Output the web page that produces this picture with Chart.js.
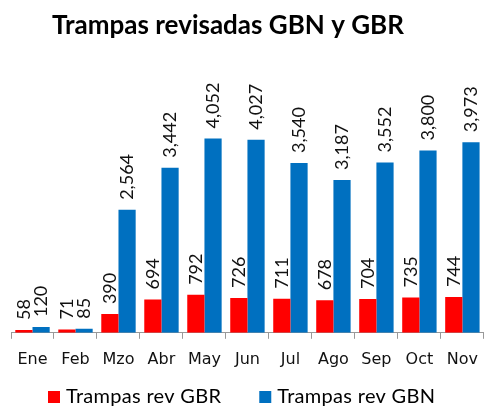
<!DOCTYPE html>
<html>
<head>
<meta charset="utf-8">
<script src="https://cdn.jsdelivr.net/npm/chart.js@4.4.1/dist/chart.umd.min.js"></script>
<style>
  html, body { margin: 0; padding: 0; background: #fff; }
  #wrap { width: 489px; height: 408px; }
</style>
</head>
<body>
<div id="wrap"><canvas id="chart"></canvas></div>
<script>
const chartTitle = "Trampas revisadas GBN y GBR";
const months = ["Ene", "Feb", "Mzo", "Abr", "May", "Jun", "Jul", "Ago", "Sep", "Oct", "Nov"];
const gbrValues = [58, 71, 390, 694, 792, 726, 711, 678, 704, 735, 744];
const gbnValues = [120, 85, 2564, 3442, 4052, 4027, 3540, 3187, 3552, 3800, 3973];
const seriesLabels = ["Trampas rev GBR", "Trampas rev GBN"];
const seriesColors = ["#ff0000", "#0070c0"];

Chart.defaults.font.family = "Lato, 'Open Sans', sans-serif";
Chart.defaults.color = "#111";

// title sits a bit left of centre in the original, so draw it ourselves
const titlePlugin = {
  id: "titlePlugin",
  afterDraw(chart) {
    const { ctx } = chart;
    ctx.save();
    ctx.font = "bold 26px Lato";
    ctx.fillStyle = "#000";
    ctx.textAlign = "center";
    ctx.textBaseline = "middle";
    ctx.fillText(chartTitle, 228, 26);
    ctx.restore();
  },
};

const valueLabels = {
  id: "valueLabels",
  afterDatasetsDraw(chart) {
    const { ctx } = chart;
    ctx.save();
    ctx.font = "18px Lato";
    ctx.fillStyle = "#111";
    ctx.textAlign = "left";
    ctx.textBaseline = "middle";
    chart.data.datasets.forEach((ds, i) => {
      chart.getDatasetMeta(i).data.forEach((bar, j) => {
        ctx.save();
        ctx.translate(bar.x, bar.y - 10);
        ctx.rotate(-Math.PI / 2);
        ctx.fillText(ds.data[j].toLocaleString("en-US"), 0, 0);
        ctx.restore();
      });
    });
    ctx.restore();
  },
};

// legend with wider gap between items than chart.js padding allows
const legendPlugin = {
  id: "legendPlugin",
  afterDraw(chart) {
    const { ctx } = chart;
    const box = 12;
    const gap = 6;
    const itemGap = 38;
    const y = 397;
    ctx.save();
    ctx.font = "20px Lato";
    ctx.letterSpacing = "0.3px";
    ctx.textBaseline = "middle";
    ctx.textAlign = "left";
    let x = 48;
    seriesLabels.forEach((t, i) => {
      ctx.fillStyle = seriesColors[i];
      ctx.fillRect(x, y - box / 2, box, box);
      ctx.fillStyle = "#000";
      ctx.fillText(t, x + box + gap, y);
      x += box + gap + ctx.measureText(t).width + itemGap;
    });
    ctx.restore();
  },
};

new Chart(document.getElementById("chart"), {
  type: "bar",
  data: {
    labels: months,
    datasets: [
      { label: seriesLabels[0], data: gbrValues, backgroundColor: seriesColors[0] },
      { label: seriesLabels[1], data: gbnValues, backgroundColor: seriesColors[1] },
    ],
  },
  options: {
    responsive: true,
    maintainAspectRatio: false,
    animation: false,
    layout: { padding: { top: 93, left: 11, right: 0, bottom: 28 } },
    datasets: { bar: { categoryPercentage: 0.8, barPercentage: 1.0 } },
    plugins: {
      legend: { display: false },
      title: { display: false },
      tooltip: { enabled: false },
    },
    scales: {
      x: {
        grid: {
          offset: true,
          drawOnChartArea: false,
          tickLength: 6,
          color: "#999",
        },
        border: { color: "#999" },
        ticks: { font: { family: "'DejaVu Sans'", size: 16 }, padding: 11, color: "#111" },
      },
      y: {
        display: false,
        min: 0,
        max: 5000,
      },
    },
  },
  plugins: [titlePlugin, valueLabels, legendPlugin],
});
</script>
</body>
</html>
